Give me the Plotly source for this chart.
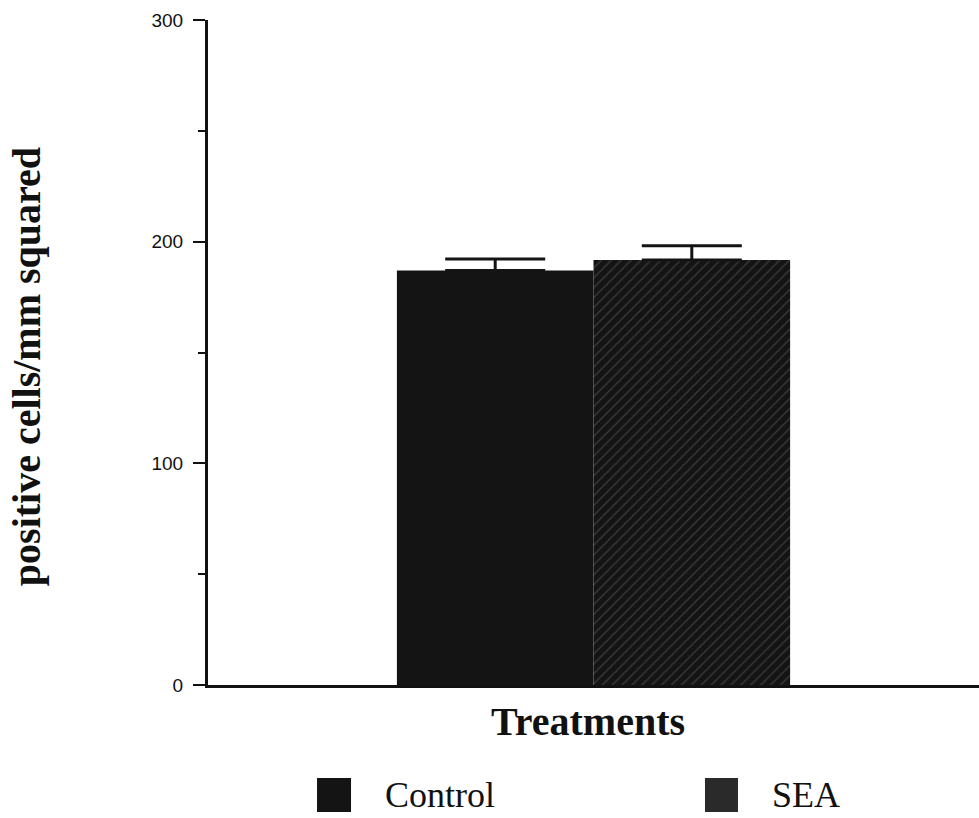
import plotly.graph_objects as go

categories = ["Treatments"]
groups = ["Control", "SEA"]
means = [187.0, 191.7]
errors = [5.2, 6.5]
y_ticks = [0, 100, 200, 300]

BAR = "#141414"

fig = go.Figure()
fig.add_trace(go.Bar(
    name=groups[0], x=categories, y=[means[0]],
    marker=dict(color=BAR, line=dict(width=0)),
    error_y=dict(type="data", array=[errors[0]], arrayminus=[0], symmetric=False,
                 color=BAR, thickness=3, width=50),
))
fig.add_trace(go.Bar(
    name=groups[1], x=categories, y=[means[1]],
    marker=dict(color=BAR, line=dict(width=0),
                pattern=dict(shape="/", fgcolor="#5e5e5e", bgcolor=BAR,
                             size=7, solidity=0.2)),
    error_y=dict(type="data", array=[errors[1]], arrayminus=[0], symmetric=False,
                 color=BAR, thickness=3, width=50),
))

fig.update_layout(
    width=979, height=818,
    margin=dict(l=208, r=0, t=20, b=133),
    paper_bgcolor="white", plot_bgcolor="white",
    barmode="group", bargap=0.49, bargroupgap=0,
    showlegend=False,
    font=dict(family="Liberation Sans", color="#111111"),
)
fig.update_xaxes(
    showticklabels=False, ticks="", showline=True, linecolor="#111111",
    linewidth=2.5, showgrid=False, zeroline=False,
)
fig.update_yaxes(
    range=[0, 300], tickvals=y_ticks, ticktext=[str(v) for v in y_ticks],
    ticks="outside", ticklen=12, tickwidth=2, tickcolor="#111111",
    tickfont=dict(family="Liberation Sans", size=19, color="#111111"),
    ticklabelstandoff=6,
    minor=dict(dtick=50, ticks="outside", ticklen=7, tickwidth=2, tickcolor="#111111"),
    showline=True, linecolor="#111111", linewidth=3,
    showgrid=False, zeroline=False,
)

serif = "Liberation Serif"
fig.add_annotation(text="<b>positive cells/mm squared</b>", xref="paper", yref="paper",
                   x=-0.236, y=0.478, xanchor="center", yanchor="middle",
                   textangle=-90, showarrow=False,
                   font=dict(family=serif, size=40, color="#111111"))
fig.add_annotation(text="<b>Treatments</b>", xref="paper", yref="paper",
                   x=0.4929, y=-0.0556, xanchor="center", yanchor="middle",
                   showarrow=False,
                   font=dict(family=serif, size=40, color="#111111"))

# legend swatches
fig.add_shape(type="rect", xref="paper", yref="paper", x0=0.1414, x1=0.1855,
              y0=-0.191, y1=-0.1398, fillcolor="#141414", line=dict(width=0))
fig.add_shape(type="rect", xref="paper", yref="paper", x0=0.6446, x1=0.6874,
              y0=-0.191, y1=-0.1398, fillcolor="#2a2a2a", line=dict(width=0))
fig.add_annotation(text=groups[0], xref="paper", yref="paper", x=0.227, y=-0.1654,
                   xanchor="left", yanchor="middle", showarrow=False,
                   font=dict(family=serif, size=36, color="#111111"))
fig.add_annotation(text=groups[1], xref="paper", yref="paper", x=0.729, y=-0.1654,
                   xanchor="left", yanchor="middle", showarrow=False,
                   font=dict(family=serif, size=36, color="#111111"))

fig.write_html("out.html")
